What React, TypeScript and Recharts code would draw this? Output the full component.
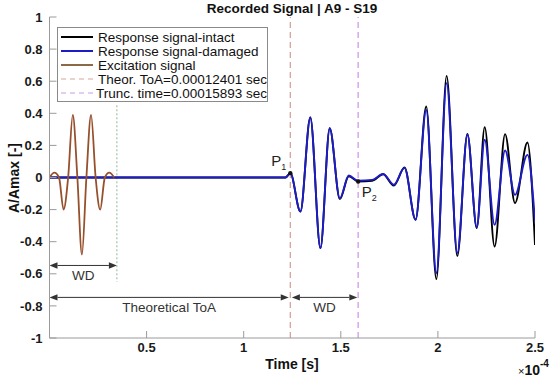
import { LineChart, Line, XAxis, YAxis, ReferenceLine, ReferenceDot, Legend } from "recharts";

// time axis is in units of 1e-4 s
const xTicks = [0.5, 1, 1.5, 2, 2.5];
const yTicks = [-1, -0.8, -0.6, -0.4, -0.2, 0, 0.2, 0.4, 0.6, 0.8, 1];

// excitation burst (peaks + zero crossings)
const excitationTime = [0, 0.025, 0.049, 0.0725, 0.096, 0.12, 0.1435, 0.167, 0.19, 0.214, 0.2375, 0.261, 0.285, 0.308, 0.333];
const excitationAmp = [0, 0.03, 0, -0.2, 0, 0.39, 0, -0.48, 0, 0.39, 0, -0.2, 0, 0.03, 0];

// response signals (extrema)
const responseTime = [0, 1.215, 1.2401, 1.292, 1.343, 1.395, 1.443, 1.495, 1.541, 1.5893, 1.662, 1.718, 1.773, 1.828, 1.885, 1.94, 1.992, 2.045, 2.1, 2.152, 2.2, 2.241, 2.292, 2.346, 2.397, 2.461, 2.5];
const intactAmp = [0, 0, 0.027, -0.212, 0.374, -0.44, 0.307, -0.135, 0.008, -0.025, -0.02, 0.02, -0.05, 0.062, -0.263, 0.442, -0.633, 0.633, -0.49, 0.272, -0.315, 0.314, -0.43, 0.27, -0.16, 0.218, -0.42];
const damagedAmp = [0, 0, 0.027, -0.212, 0.374, -0.44, 0.307, -0.13, 0.012, -0.02, -0.015, 0.022, -0.045, 0.06, -0.263, 0.421, -0.595, 0.588, -0.47, 0.268, -0.31, 0.235, -0.295, 0.168, -0.108, 0.141, -0.274];

const theorToA = 1.2401;
const truncTime = 1.5893;
const excitationEnd = 0.347;
const p1 = { t: 1.2401, a: 0.027 };
const p2 = { t: 1.5893, a: -0.025 };

const excitation = excitationTime.map((t, i) => ({ t, a: excitationAmp[i] }));
const intact = responseTime.map((t, i) => ({ t, a: intactAmp[i] }));
const damaged = responseTime.map((t, i) => ({ t, a: damagedAmp[i] }));

const FONT = "'Liberation Sans', Arial, sans-serif";
const AXIS = "#9a9a9a";
const BLUE = "#1c1cc8";
const BROWN = "#96502c";

const legendItems = [
  { label: "Response signal-intact", color: "#000", dash: "" },
  { label: "Response signal-damaged", color: BLUE, dash: "" },
  { label: "Excitation signal", color: "#8c6a48", dash: "" },
  { label: "Theor. ToA=0.00012401 sec", color: "#d6a59c", dash: "5 4" },
  { label: "Trunc. time=0.00015893 sec", color: "#c99be6", dash: "5 4" },
];

const renderLegend = () => (
  <div
    style={{
      width: 207,
      height: 71,
      border: "1px solid #8a8a8a",
      background: "#fff",
      padding: "2px 0 0 2px",
      fontFamily: FONT,
      fontSize: 13.5,
      color: "#111",
    }}
  >
    {legendItems.map((it) => (
      <div key={it.label} style={{ display: "flex", alignItems: "center", height: 14, whiteSpace: "nowrap" }}>
        <svg width={36} height={4} style={{ marginRight: 2 }}>
          <line x1={1} y1={2} x2={33} y2={2} stroke={it.color} strokeWidth={it.dash ? 1.2 : 2} strokeDasharray={it.dash || undefined} />
        </svg>
        <span>{it.label}</span>
      </div>
    ))}
  </div>
);

const arrowShape = (text: string) => (props: any) => {
  const { x1, y1, x2, y2 } = props;
  const h = 8;
  const w = 3.2;
  return (
    <g>
      <line x1={x1 + h} y1={y1} x2={x2 - h} y2={y2} stroke="#333" strokeWidth={1} />
      <polygon points={`${x1},${y1} ${x1 + h},${y1 - w} ${x1 + h},${y1 + w}`} fill="#333" />
      <polygon points={`${x2},${y2} ${x2 - h},${y2 - w} ${x2 - h},${y2 + w}`} fill="#333" />
      <text x={(x1 + x2) / 2} y={y1 + 15} textAnchor="middle" fontSize={13.5} fontFamily={FONT} fill="#333">
        {text}
      </text>
    </g>
  );
};

const pointShape = (sub: string, dx: number, dy: number) => (props: any) => (
  <g>
    <circle cx={props.cx} cy={props.cy} r={2.2} fill="#111" />
    <text x={props.cx + dx} y={props.cy + dy} fontSize={15} fontFamily={FONT} fill="#222">
      P
      <tspan fontSize={9} dy={4}>
        {sub}
      </tspan>
    </text>
  </g>
);

const tickStyle = { fill: "#1a1a1a", fontSize: 13, fontWeight: "bold", fontFamily: FONT };

export default function App() {
  return (
    <div style={{ position: "absolute", left: 0, top: 0, width: 550, height: 379, background: "#fff", fontFamily: FONT }}>
      <div style={{ position: "absolute", left: 0, width: 584, top: 1, textAlign: "center", fontWeight: "bold", fontSize: 13.5, color: "#111" }}>
        Recorded Signal | A9 - S19
      </div>
      <div
        style={{
          position: "absolute",
          left: 14,
          top: 178,
          transform: "translate(-50%, -50%) rotate(-90deg)",
          fontWeight: "bold",
          fontSize: 14,
          whiteSpace: "nowrap",
          color: "#111",
        }}
      >
        A/Amax [-]
      </div>
      <div style={{ position: "absolute", left: 0, width: 584, top: 356, textAlign: "center", fontWeight: "bold", fontSize: 14, color: "#111" }}>
        Time [s]
      </div>
      <div style={{ position: "absolute", left: 518, top: 362, fontSize: 14, color: "#111", whiteSpace: "nowrap" }}>
        <span style={{ fontSize: 11 }}>×</span>
        <span style={{ fontWeight: "bold" }}>10</span>
        <span style={{ fontSize: 10, fontWeight: "bold", position: "relative", top: -8 }}>-4</span>
      </div>
      <LineChart width={550} height={379} margin={{ top: 17, right: 15, left: 0, bottom: 0 }} style={{ position: "absolute", left: 0, top: 0 }}>
        <XAxis
          type="number"
          dataKey="t"
          domain={[0, 2.5]}
          ticks={xTicks}
          allowDataOverflow
          height={41}
          stroke={AXIS}
          tickSize={-7}
          tickMargin={12}
          tick={tickStyle}
        />
        <XAxis xAxisId="top" orientation="top" type="number" domain={[0, 2.5]} ticks={xTicks} height={0} stroke={AXIS} tickSize={-7} tick={false} />
        <YAxis
          type="number"
          domain={[-1, 1]}
          ticks={yTicks}
          allowDataOverflow
          width={49.5}
          stroke={AXIS}
          tickSize={-7}
          tickMargin={14}
          tick={tickStyle}
        />
        <YAxis yAxisId="right" orientation="right" type="number" domain={[-1, 1]} ticks={yTicks} width={0} stroke={AXIS} tickSize={-7} tick={false} />
        <ReferenceLine x={theorToA} stroke="#d6a59c" strokeWidth={1.3} strokeDasharray="6 4" />
        <ReferenceLine x={truncTime} stroke="#cf9be8" strokeWidth={1.3} strokeDasharray="6 4" />
        <ReferenceLine
          segment={[
            { x: excitationEnd, y: 0.45 },
            { x: excitationEnd, y: -0.65 },
          ]}
          stroke="#8fb89a"
          strokeWidth={1}
          strokeDasharray="2 2"
        />
        <Line data={intact} dataKey="a" type="monotone" stroke="#000" strokeWidth={1.9} dot={false} isAnimationActive={false} />
        <Line data={damaged} dataKey="a" type="monotone" stroke={BLUE} strokeWidth={1.9} dot={false} isAnimationActive={false} />
        <Line data={excitation} dataKey="a" type="monotone" stroke={BROWN} strokeWidth={1.8} dot={false} isAnimationActive={false} />
        <ReferenceLine
          segment={[
            { x: 0, y: -0.548 },
            { x: excitationEnd, y: -0.548 },
          ]}
          shape={arrowShape("WD")}
        />
        <ReferenceLine
          segment={[
            { x: 0, y: -0.747 },
            { x: 1.232, y: -0.747 },
          ]}
          shape={arrowShape("Theoretical ToA")}
        />
        <ReferenceLine
          segment={[
            { x: 1.248, y: -0.747 },
            { x: 1.585, y: -0.747 },
          ]}
          shape={arrowShape("WD")}
        />
        <ReferenceDot x={p1.t} y={p1.a} shape={pointShape("1", -19, -7)} />
        <ReferenceDot x={p2.t} y={p2.a} shape={pointShape("2", 3.5, 15)} />
        <Legend
          content={renderLegend}
          layout="vertical"
          align="center"
          verticalAlign="middle"
          wrapperStyle={{ top: 27, left: 57, width: 211 }}
        />
      </LineChart>
    </div>
  );
}
